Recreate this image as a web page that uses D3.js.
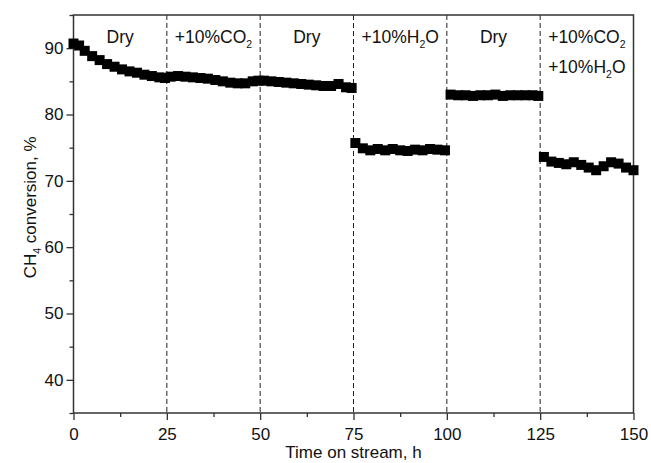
<!DOCTYPE html>
<html>
<head>
<meta charset="utf-8">
<script src="https://cdn.jsdelivr.net/npm/d3@7"></script>
<style>
  body { margin: 0; background: #fff; }
  text { font-family: "Liberation Sans", Arial, sans-serif; fill: #111; }
</style>
</head>
<body>
<svg id="chart" width="651" height="463"></svg>
<script>
// data (time in h, CH4 conversion in %)
var seg1T = [0, 1.5, 3, 5, 7, 9, 11, 13, 15, 17, 19, 21, 23, 24.5];
var seg1V = [90.7, 90.4, 89.6, 88.8, 88.2, 87.6, 87.2, 86.8, 86.5, 86.3, 86.0, 85.8, 85.6, 85.5];
var seg2T = [26, 28, 30, 32, 34, 36, 38, 40, 42, 44, 46, 48, 49.5];
var seg2V = [85.7, 85.8, 85.7, 85.6, 85.5, 85.4, 85.2, 85.0, 84.8, 84.7, 84.7, 85.0, 85.1];
var seg3T = [51, 53, 55, 57, 59, 61, 63, 65, 67, 69, 71, 73, 74.5];
var seg3V = [85.1, 85.0, 84.9, 84.8, 84.7, 84.6, 84.5, 84.4, 84.3, 84.3, 84.6, 84.1, 84.0];
var seg4T = [75.5, 77.5, 79.5, 81.5, 83.5, 85.5, 87.5, 89.5, 91.5, 93.5, 95.5, 97.5, 99.5];
var seg4V = [75.7, 74.9, 74.6, 74.8, 74.6, 74.8, 74.6, 74.5, 74.7, 74.6, 74.8, 74.7, 74.6];
var seg5T = [101, 103, 105, 107, 109, 111, 113, 115, 117, 119, 121, 123, 124.5];
var seg5V = [83.0, 82.9, 82.9, 82.8, 82.9, 82.9, 83.0, 82.8, 82.9, 82.9, 82.9, 82.9, 82.8];
var seg6T = [126, 128, 130, 132, 134, 136, 138, 140, 142, 144, 146, 148, 150];
var seg6V = [73.6, 72.9, 72.7, 72.5, 72.8, 72.4, 72.0, 71.6, 72.2, 72.8, 72.6, 72.0, 71.6];

var xTicks = [0, 25, 50, 75, 100, 125, 150];
var yTicks = [40, 50, 60, 70, 80, 90];
var dividers = [25, 50, 75, 100, 125];
var labelPos = [12.5, 37.5, 62.5, 87.5, 112.5, 137.5];
var labelMain = ["Dry", "+10%CO", "Dry", "+10%H", "Dry", "+10%CO"];
var labelSub = ["", "2", "", "2", "", "2"];
var labelTail = ["", "", "", "O", "", ""];

var svg = d3.select("#chart");
var M = { top: 15, right: 17.5, bottom: 50, left: 73.5 };
var W = 651, H = 463;

var x = d3.scaleLinear().domain([0, 150]).range([M.left, W - M.right]);
var y = d3.scaleLinear().domain([35, 95]).range([H - M.bottom, M.top]);

var pts = [];
[[seg1T, seg1V], [seg2T, seg2V], [seg3T, seg3V], [seg4T, seg4V], [seg5T, seg5V], [seg6T, seg6V]]
  .forEach(function(s) {
    s[0].forEach(function(t, i) { pts.push({ t: t, v: s[1][i] }); });
  });

// dashed dividers
svg.selectAll("line.div")
  .data(dividers)
  .enter()
  .append("line")
  .attr("class", "div")
  .attr("x1", function(d) { return x(d); })
  .attr("x2", function(d) { return x(d); })
  .attr("y1", y(95))
  .attr("y2", y(35))
  .attr("stroke", "#222")
  .attr("stroke-width", 1)
  .attr("stroke-dasharray", "5,3");

// frame
svg.append("rect")
  .attr("x", x(0)).attr("y", y(95))
  .attr("width", x(150) - x(0)).attr("height", y(35) - y(95))
  .attr("fill", "none").attr("stroke", "#333").attr("stroke-width", 1.5);

// axes
var xAxis = d3.axisBottom(x).tickValues(xTicks).tickSize(7).tickPadding(8).tickFormat(d3.format("d"));
var xMinor = d3.axisBottom(x).tickValues([12.5, 37.5, 62.5, 87.5, 112.5, 137.5]).tickSize(4).tickFormat("");
var yAxis = d3.axisLeft(y).tickValues(yTicks).tickSize(7).tickPadding(3);
var yMinor = d3.axisLeft(y).tickValues([35, 45, 55, 65, 75, 85, 95]).tickSize(4).tickFormat("");

function styleAxis(g) {
  g.select(".domain").remove();
  g.selectAll("line").attr("stroke", "#333").attr("stroke-width", 1.3);
  g.selectAll("text").style("font-size", "17px").attr("fill", "#111");
}

svg.append("g").attr("transform", "translate(0," + y(35) + ")").call(xAxis).call(styleAxis);
svg.append("g").attr("transform", "translate(0," + y(35) + ")").call(xMinor).call(styleAxis);
svg.append("g").attr("transform", "translate(" + x(0) + ",0)").call(yAxis).call(styleAxis);
svg.append("g").attr("transform", "translate(" + x(0) + ",0)").call(yMinor).call(styleAxis);

// data markers
var sz = 10;
svg.selectAll("rect.pt")
  .data(pts)
  .enter()
  .append("rect")
  .attr("class", "pt")
  .attr("x", function(d) { return x(d.t) - sz / 2; })
  .attr("y", function(d) { return y(d.v) - sz / 2; })
  .attr("width", sz)
  .attr("height", sz)
  .attr("fill", "#000");

// condition labels
labelPos.forEach(function(p, i) {
  var t = svg.append("text")
    .attr("x", x(p))
    .attr("y", 43)
    .attr("text-anchor", "middle")
    .style("font-size", "17.5px");
  t.append("tspan").text(labelMain[i]);
  if (labelSub[i]) t.append("tspan").attr("dy", 5).style("font-size", "10.5px").text(labelSub[i]);
  if (labelTail[i]) t.append("tspan").attr("dy", -5).text(labelTail[i]);
});
var t2 = svg.append("text")
  .attr("x", x(137.5))
  .attr("y", 73)
  .attr("text-anchor", "middle")
  .style("font-size", "17.5px");
t2.append("tspan").text("+10%H");
t2.append("tspan").attr("dy", 5).style("font-size", "10.5px").text("2");
t2.append("tspan").attr("dy", -5).text("O");

// axis titles
svg.append("text")
  .attr("x", (x(0) + x(150)) / 2)
  .attr("y", 458)
  .attr("text-anchor", "middle")
  .style("font-size", "17px")
  .text("Time on stream, h");

var yt = svg.append("text")
  .attr("transform", "translate(36," + y(66) + ") rotate(-90)")
  .attr("text-anchor", "middle")
  .style("font-size", "17px");
yt.append("tspan").text("CH");
yt.append("tspan").attr("dy", 5).style("font-size", "10.5px").text("4");
yt.append("tspan").attr("dy", -5).text(" conversion, %");
</script>
</body>
</html>
